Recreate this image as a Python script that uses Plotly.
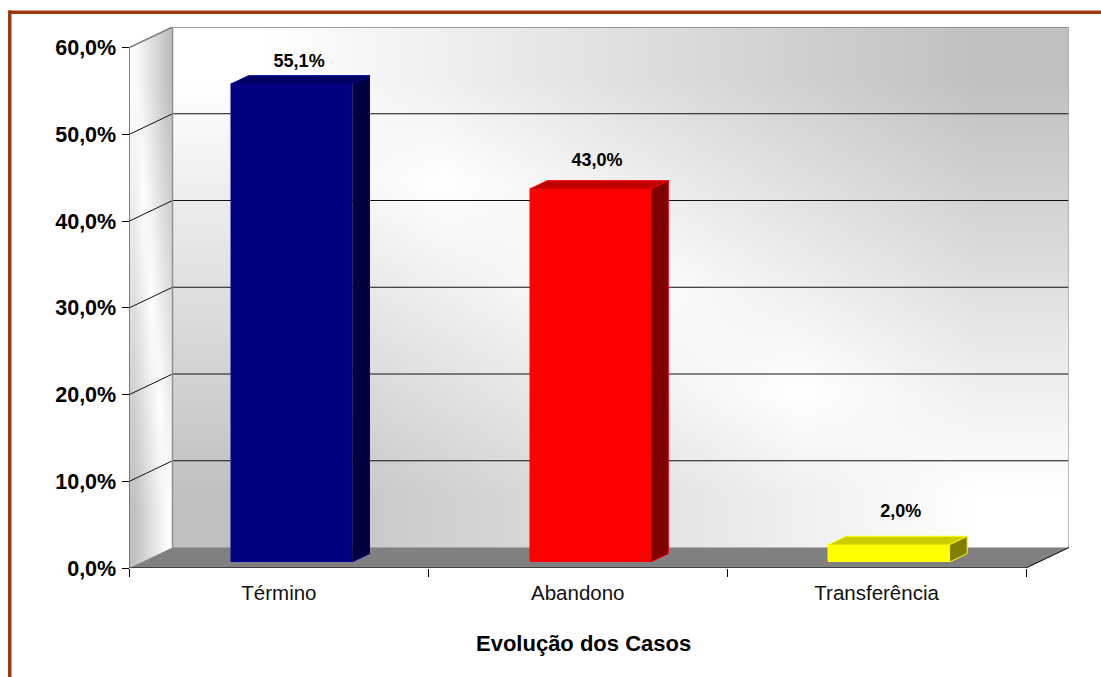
import plotly.graph_objects as go

# ---- data ----
categories = ["Término", "Abandono", "Transferência"]
values = [55.1, 43.0, 2.0]
value_ticks = [0, 10, 20, 30, 40, 50, 60]
axis_title = "Evolução dos Casos"

# ---- styles ----
front_colors = ["#000080", "#FF0000", "#FFFF00"]
top_colors = ["#000060", "#C00000", "#CCCC00"]
side_colors = ["#000040", "#800000", "#808000"]
line_colors = ["#0000A0", "#FF0000", "#FFFF00"]
label_lift = [1.55, 2.25, 2.7]
label_nudge = [0.47, 0.45, 0.56]
FONT = "Liberation Sans, Arial, sans-serif"

W, H = 1101, 677
LEFT, RIGHT_FRONT, RIGHT_BACK = 129.5, 1026.0, 1069.0
Y0, Y60, Y_TOP = 568.0, 47.5, 27.0
CAT_PX = (RIGHT_FRONT - LEFT) / 3
UNIT_PX = (Y0 - Y60) / 60
DX = (RIGHT_BACK - RIGHT_FRONT) / CAT_PX  # depth in category units
DY = (Y0 - Y_TOP) / UNIT_PX - 60           # depth in value units
XMIN, XMAX = -0.5, 2.5
BAR_W = 0.405
D_FRONT, D_BACK = 0.3, 0.7

wall_shade = [
    [0.8, 0.6, 0.4, 0.2, 0.0],
    [0.6, 0.4, 0.2, 0.0, 0.2],
    [0.4, 0.2, 0.0, 0.2, 0.4],
    [0.2, 0.0, 0.2, 0.4, 0.6],
    [0.0, 0.2, 0.4, 0.6, 0.8],
]
wall_scale = [[0, "#FFFFFF"], [1, "#C0C0C0"]]


def edges(a, b, n=5):
    return [a + (b - a) * i / n for i in range(n + 1)]


fig = go.Figure()

# back wall and side wall
fig.add_trace(go.Heatmap(x=edges(XMIN + DX, XMAX + DX), y=edges(DY, 60 + DY), z=wall_shade,
                         zsmooth="best", colorscale=wall_scale, zmin=0, zmax=0.8,
                         showscale=False, hoverinfo="skip"))
fig.add_trace(go.Heatmap(x=edges(XMIN, XMIN + DX), y=edges(0, 60 + DY), z=wall_shade,
                         zsmooth="best", colorscale=wall_scale, zmin=0, zmax=0.8,
                         showscale=False, hoverinfo="skip"))


def poly(xs, ys, fill, line=None, width=1, z=1):
    fig.add_trace(go.Scatter(x=xs, y=ys, mode="lines", fill="toself", fillcolor=fill,
                             line=dict(color=line or fill, width=width), zorder=z,
                             cliponaxis=False, hoverinfo="skip", showlegend=False))


def stroke(xs, ys, color, width=1, z=1):
    fig.add_trace(go.Scatter(x=xs, y=ys, mode="lines", line=dict(color=color, width=width),
                             zorder=z, cliponaxis=False, hoverinfo="skip", showlegend=False))


# white masks around the skewed side wall, and the floor
poly([XMIN, XMIN + DX, XMIN], [60, 60 + DY, 60 + DY], "#FFFFFF", width=0)
poly([XMAX, XMAX + DX, XMAX + DX], [0, DY, 0], "#FFFFFF", width=0)
poly([XMIN, XMIN + DX, XMAX + DX, XMAX], [0, DY, DY, 0], "#808080", width=0)

# gridlines
for v in value_ticks[1:-1]:
    stroke([XMIN, XMIN + DX, XMAX + DX], [v, v + DY, v + DY], "#111111", 1)

# wall borders
stroke([XMIN, XMIN + DX, XMAX + DX], [60, 60 + DY, 60 + DY], "#808080", 1.5)
stroke([XMIN + DX, XMIN + DX], [60 + DY, DY], "#909090", 1.5)
stroke([XMAX + DX, XMAX + DX], [60 + DY, DY], "#A8A8A8", 1.5)

# axes
stroke([XMIN, XMIN], [0, 60], "#000000", 1, z=2)
stroke([XMIN, XMAX], [0, 0], "#000000", 1.2, z=2)
stroke([XMAX, XMAX + DX], [0, DY], "#000000", 1, z=2)

# bars: front faces
fig.add_trace(go.Bar(x=list(range(len(values))), y=values,
                     base=[D_FRONT * DY] * len(values), width=BAR_W,
                     offset=-BAR_W / 2 + D_FRONT * DX,
                     marker=dict(color=front_colors, line=dict(color=line_colors, width=1)),
                     zorder=3, showlegend=False, hoverinfo="skip"))

# bars: top and side faces
for i, v in enumerate(values):
    xl = i - BAR_W / 2 + D_FRONT * DX
    xr = xl + BAR_W
    bf, bb = D_FRONT * DY, D_BACK * DY
    ddx = (D_BACK - D_FRONT) * DX
    poly([xl, xl + ddx, xr + ddx, xr], [v + bf, v + bb, v + bb, v + bf], top_colors[i], line_colors[i], 1, 3)
    poly([xr, xr + ddx, xr + ddx, xr], [bf, bb, v + bb, v + bf], side_colors[i], line_colors[i], 1, 3)

# value labels
fig.add_trace(go.Scatter(x=[i + n * DX for i, n in enumerate(label_nudge)],
                         y=[v + D_BACK * DY + l for v, l in zip(values, label_lift)],
                         text=[f"{v:.1f}".replace(".", ",") + "%" for v in values],
                         mode="text", textposition="middle center",
                         textfont=dict(family=FONT, size=18, color="#000000"),
                         texttemplate="<b>%{text}</b>", zorder=4, cliponaxis=False,
                         hoverinfo="skip", showlegend=False))

fig.update_layout(
    width=W, height=H, autosize=False,
    margin=dict(l=0, r=0, t=0, b=0),
    paper_bgcolor="#FFFFFF", plot_bgcolor="#FFFFFF",
    showlegend=False, bargap=0,
    font=dict(family=FONT, color="#000000"),
    xaxis=dict(domain=[LEFT / W, RIGHT_BACK / W], range=[XMIN, XMAX + DX],
               tickmode="array", tickvals=list(range(len(categories))), ticktext=categories,
               ticks="", ticklabelstandoff=10, showgrid=False, zeroline=False, showline=False,
               automargin=False,
               tickfont=dict(family=FONT, size=20.5, color="#111111"),
               minor=dict(tickmode="array", tickvals=[XMIN, 0.5, 1.5, XMAX], ticks="outside",
                          ticklen=8, tickwidth=1, tickcolor="#000000", showgrid=False)),
    yaxis=dict(domain=[1 - Y0 / H, 1 - Y_TOP / H], range=[0, 60 + DY],
               tickmode="array", tickvals=value_ticks,
               ticktext=[f"<b>{v},0%</b>" for v in value_ticks],
               ticks="outside", ticklen=7, tickwidth=1, tickcolor="#000000",
               ticklabelstandoff=1, showgrid=False, zeroline=False, showline=False,
               automargin=False,
               tickfont=dict(family=FONT, size=21.5, color="#000000")),
    annotations=[dict(text=f"<b>{axis_title}</b>", xref="paper", yref="paper",
                      x=583.5 / W, y=1 - 643 / H, yanchor="middle", xanchor="center", showarrow=False,
                      font=dict(family=FONT, size=22, color="#000000"))],
    shapes=[
        dict(type="rect", xref="paper", yref="paper", x0=8 / W, x1=1, y0=1 - 14 / H, y1=1 - 10.5 / H,
             fillcolor="#A03A0C", line_width=0, layer="above"),
        dict(type="rect", xref="paper", yref="paper", x0=8 / W, x1=11.5 / W, y0=0, y1=1 - 10.5 / H,
             fillcolor="#A03A0C", line_width=0, layer="above"),
    ],
)

fig.write_html("out.html",
               post_script="document.body.style.margin='0';document.documentElement.style.overflow='hidden';",
               config=dict(displayModeBar=False))
